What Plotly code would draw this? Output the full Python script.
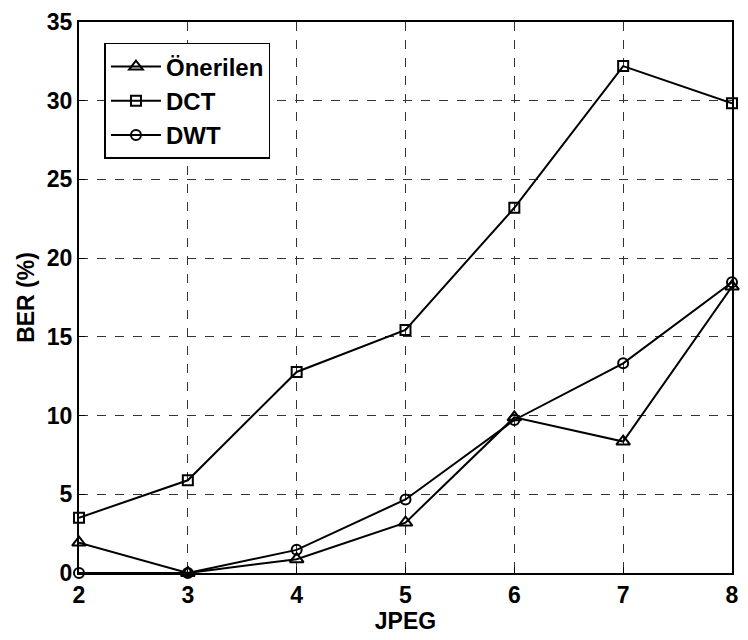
import plotly.graph_objects as go

jpeg = [2, 3, 4, 5, 6, 7, 8]
onerilen = [1.93, 0.0, 0.88, 3.2, 9.89, 8.35, 18.2]
dct = [3.51, 5.89, 12.77, 15.44, 23.2, 32.2, 29.84]
dwt = [0.0, 0.0, 1.47, 4.67, 9.72, 13.32, 18.47]

series = [
    ("Önerilen", onerilen, "triangle-up-open", 12),
    ("DCT", dct, "square-open", 10),
    ("DWT", dwt, "circle-open", 10),
]

fig = go.Figure()
for name, vals, sym, sz in series:
    fig.add_trace(go.Scatter(
        x=jpeg, y=vals, name=name, mode="lines+markers",
        line=dict(color="black", width=2),
        marker=dict(symbol=sym, size=sz, color="black", line=dict(width=2, color="black")),
        cliponaxis=False,
    ))

font = dict(family="Liberation Sans, Arial, sans-serif", size=23, color="black", weight="bold")

axis_common = dict(
    showline=True, linecolor="black", linewidth=2, mirror=True,
    showgrid=True, gridcolor="#333333", griddash="dash", gridwidth=1,
    ticks="inside", ticklen=6, tickcolor="black", tickwidth=1,
    zeroline=False, tickfont=font,
)

fig.update_layout(
    width=748, height=640,
    margin=dict(l=79, r=9, t=19, b=67),
    paper_bgcolor="white", plot_bgcolor="white",
    font=font,
    xaxis=dict(range=[2, 8], dtick=1, title=dict(text="JPEG", font=font, standoff=0), **axis_common),
    yaxis=dict(range=[0, 35], dtick=5, title=dict(text="BER (%)", font=font, standoff=6), **axis_common),
    legend=dict(
        x=0.039, y=0.962, xanchor="left", yanchor="top",
        bgcolor="white", bordercolor="black", borderwidth=1.5,
        font=dict(family="Liberation Sans, Arial, sans-serif", size=24, color="black", weight="bold"),
        itemwidth=50,
    ),
    showlegend=True,
)

fig.write_html("out.html")
